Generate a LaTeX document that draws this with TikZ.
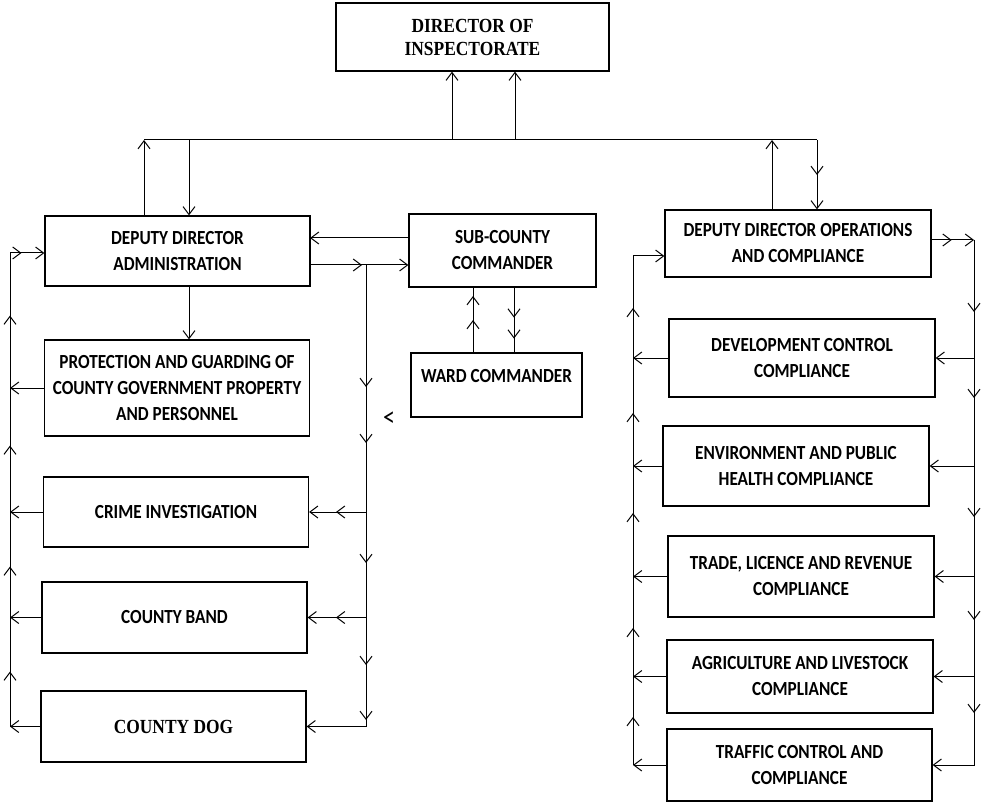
\documentclass[tikz,border=0pt]{standalone}
\usepackage{fontspec}
\newfontfamily\unitfont[FakeStretch=0.86]{Carlito}
\newfontfamily\headfont[FakeStretch=0.87]{Liberation Serif}
\usetikzlibrary{arrows.meta,decorations.markings}
\tikzset{
  font={\unitfont\bfseries\fontsize{20pt}{26pt}\selectfont}}

\begin{document}
\begin{tikzpicture}[x=1pt,y=-1pt,
    >={Straight Barb[length=8pt,width=12pt]},
    block_head/.style ={rectangle, draw=black, line width=1.2pt, fill=white,
      align=center, font={\headfont\bfseries\fontsize{20pt}{23pt}\selectfont}},
    block_unit/.style ={rectangle, draw=black, line width=1.2pt, fill=white,
      align=center, minimum width=265pt},
    block_mark/.style ={draw=none, font={\unitfont\fontsize{28pt}{30pt}\selectfont}},
    link/.style ={draw, line width=1pt, ->},
    midtips/.style ={postaction={decorate, -}},
    tip at/.style ={decoration={markings, mark=at position #1 with {\arrow{>}}}}]
  \useasboundingbox (0,0) rectangle (982,802);
  % top of the chart
  \node[block_head, minimum width=273pt, minimum height=68pt] (dir) at (472.5,37) {DIRECTOR OF\\INSPECTORATE};
  % administration column
  \node[block_unit, minimum height=70pt] (adm) at (177.5,251) {DEPUTY DIRECTOR\\ADMINISTRATION};
  \node[block_unit, minimum height=96pt] (prot) at (177,388) {PROTECTION AND GUARDING OF\\COUNTY GOVERNMENT PROPERTY\\AND PERSONNEL};
  \node[block_unit, minimum height=70pt] (crime) at (176,512) {CRIME INVESTIGATION};
  \node[block_unit, minimum height=71pt] (band) at (174.5,617.5) {COUNTY BAND};
  \node[block_head, minimum width=265pt, minimum height=71pt] (dog) at (173.5,726.5) {COUNTY DOG};
  % commanders
  \node[block_unit, minimum width=187pt, minimum height=73pt] (sub) at (502.5,250.5) {SUB-COUNTY\\COMMANDER};
  \node[block_unit, minimum width=171pt, minimum height=64pt] (ward) at (496.5,385) {WARD COMMANDER\\[-8pt]\mbox{}};
  \node[block_mark] (stray) at (389,419) {<};
  % operations column
  \node[block_unit, minimum width=266pt, minimum height=67pt] (ops) at (798,243.5) {DEPUTY DIRECTOR OPERATIONS\\AND COMPLIANCE};
  \node[block_unit, minimum width=266pt, minimum height=78pt] (dev) at (802,358) {DEVELOPMENT CONTROL\\COMPLIANCE};
  \node[block_unit, minimum width=266pt, minimum height=80pt] (env) at (796,466) {ENVIRONMENT AND PUBLIC\\HEALTH COMPLIANCE};
  \node[block_unit, minimum width=266pt, minimum height=81pt] (trade) at (801,576.5) {TRADE, LICENCE AND REVENUE\\COMPLIANCE};
  \node[block_unit, minimum width=266pt, minimum height=73pt] (agri) at (800,676.5) {AGRICULTURE AND LIVESTOCK\\COMPLIANCE};
  \node[block_unit, minimum height=72pt] (traffic) at (799.5,765) {TRAFFIC CONTROL AND\\COMPLIANCE};
  % corners of the connecting lines
  \coordinate (bus_l) at (144,140);
  \coordinate (bus_a) at (189,140);
  \coordinate (bus_d1) at (452,140);
  \coordinate (bus_d2) at (515,140);
  \coordinate (bus_o) at (772,140);
  \coordinate (bus_r) at (817,140);
  \coordinate (a_in) at (310,238);
  \coordinate (a_out) at (310,265);
  \coordinate (br) at (366,265);
  \coordinate (w_up) at (473,353);
  \coordinate (w_dn) at (514,353);
  \coordinate (l_top) at (10,253);
  \coordinate (l_bot) at (10,726.5);
  \coordinate (r_top) at (974,240);
  \coordinate (r_bot) at (974,765);
  \coordinate (m_top) at (633,256);
  \coordinate (m_bot) at (633,765);
  % connecting nodes with paths
  \begin{scope}[every path/.style=link]
    % bus to the director
    \path[-] (bus_l) -- (bus_r);
    \path (bus_d1) -- (bus_d1 |- dir.south);
    \path (bus_d2) -- (bus_d2 |- dir.south);
    \path (adm.north -| bus_l) -- (bus_l);
    \path (bus_a) -- (bus_a |- adm.north);
    \path (ops.north -| bus_o) -- (bus_o);
    \path[midtips, tip at=35pt] (bus_r) -- (bus_r |- ops.north);
    % administration side
    \path (bus_a |- adm.south) -- (bus_a |- prot.north);
    \path (a_in -| sub.west) -- (a_in);
    \path[midtips, tip at=52pt] (a_out) -- (a_out -| sub.west);
    \path[midtips, tip at=122pt, tip at=178pt, tip at=298pt, tip at=400pt, tip at=455pt] (br) -- (br |- dog.east) -- (dog.east);
    \path[midtips, tip at=30pt] (br |- crime.east) -- (crime.east);
    \path[midtips, tip at=30pt] (br |- band.east) -- (band.east);
    % sub-county and ward
    \path[-, midtips, tip at=33pt, tip at=57pt] (w_up) -- (w_up |- sub.south);
    \path[-, midtips, tip at=30pt, tip at=51pt] (w_dn |- sub.south) -- (w_dn);
    % loop back on the left
    \path (prot.west) -- (prot.west -| l_top);
    \path (crime.west) -- (crime.west -| l_top);
    \path (band.west) -- (band.west -| l_top);
    \path (dog.west) -- (l_bot);
    \path[midtips, tip at=55pt, tip at=160pt, tip at=281pt, tip at=411pt, tip at=485pt] (l_bot) -- (l_top) -- (l_top -| adm.west);
    % operations side
    \path[midtips, tip at=20pt] (r_top -| ops.east) -- (r_top);
    \path[midtips, tip at=72pt, tip at=158pt, tip at=277pt, tip at=380pt, tip at=473pt] (r_top) -- (r_bot) -- (traffic.east);
    \path (dev.east -| r_top) -- (dev.east);
    \path (env.east -| r_top) -- (env.east);
    \path (trade.east -| r_top) -- (trade.east);
    \path (agri.east -| r_top) -- (agri.east);
    % loop back on the operations side
    \path (dev.west) -- (dev.west -| m_top);
    \path (env.west) -- (env.west -| m_top);
    \path (trade.west) -- (trade.west -| m_top);
    \path (agri.west) -- (agri.west -| m_top);
    \path (traffic.west) -- (m_bot);
    \path[midtips, tip at=48pt, tip at=137pt, tip at=252pt, tip at=352pt, tip at=457pt] (m_bot) -- (m_top) -- (m_top -| ops.west);
  \end{scope}
\end{tikzpicture}
\end{document}
